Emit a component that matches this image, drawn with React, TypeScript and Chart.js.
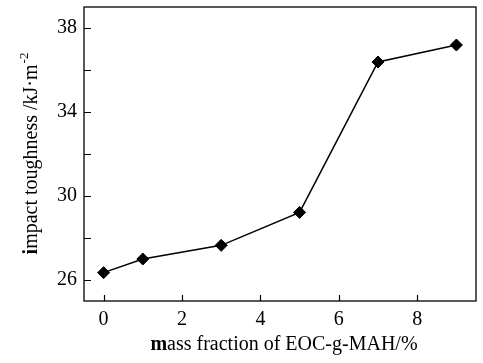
import { useEffect, useRef } from "react";
import { Chart, registerables } from "chart.js";

Chart.register(...registerables);

const massFraction = [0, 1, 3, 5, 7, 9];
const impactToughness = [26.35, 27.0, 27.65, 29.22, 36.38, 37.19];
const xTickValues = [0, 2, 4, 6, 8];
const yTickValues = [26, 28, 30, 32, 34, 36, 38];
const yLabelValues = [26, 30, 34, 38];
const xTitleParts = ["m", "ass fraction of EOC-g-MAH/%"];
const yTitleParts = ["i", "mpact toughness /kJ·m", "-2"];

const FONT = "'Liberation Serif', 'Times New Roman', serif";

const framePlugin = {
  id: "frameAndTitles",
  beforeDatasetsDraw(chart: any) {
    const { ctx, chartArea } = chart;
    const { left, right, top, bottom } = chartArea;
    ctx.save();
    ctx.strokeStyle = "#000";
    ctx.lineWidth = 1.3;
    ctx.strokeRect(left, top, right - left, bottom - top);
    const xs = chart.scales.x;
    const ys = chart.scales.y;
    ctx.beginPath();
    xs.ticks.forEach((t: any) => {
      const px = Math.round(xs.getPixelForValue(t.value)) + 0.5;
      ctx.moveTo(px, bottom);
      ctx.lineTo(px, bottom - 6);
    });
    ys.ticks.forEach((t: any) => {
      const py = Math.round(ys.getPixelForValue(t.value)) + 0.5;
      ctx.moveTo(left, py);
      ctx.lineTo(left + 7, py);
    });
    ctx.lineWidth = 1.2;
    ctx.stroke();
    ctx.restore();
  },
  afterDraw(chart: any) {
    const { ctx, chartArea } = chart;
    ctx.save();
    ctx.fillStyle = "#000";
    ctx.textBaseline = "alphabetic";
    ctx.textAlign = "left";
    const boldFont = `bold 20px ${FONT}`;
    const normFont = `20px ${FONT}`;
    // x title
    ctx.font = boldFont;
    const w0 = ctx.measureText(xTitleParts[0]).width;
    ctx.font = normFont;
    const w1 = ctx.measureText(xTitleParts[1]).width;
    const cx = (chartArea.left + chartArea.right) / 2 + 4;
    const x = cx - (w0 + w1) / 2;
    const by = 350;
    ctx.font = boldFont;
    ctx.fillText(xTitleParts[0], x, by);
    ctx.font = normFont;
    ctx.fillText(xTitleParts[1], x + w0, by);

    // y title (rotated)
    ctx.save();
    ctx.translate(37, (chartArea.top + chartArea.bottom) / 2);
    ctx.rotate(-Math.PI / 2);
    ctx.font = boldFont;
    const v0 = ctx.measureText(yTitleParts[0]).width;
    ctx.font = normFont;
    const v1 = ctx.measureText(yTitleParts[1]).width;
    const supFont = `13px ${FONT}`;
    ctx.font = supFont;
    const v2 = ctx.measureText(yTitleParts[2]).width;
    const sx = -(v0 + v1 + v2) / 2;
    ctx.font = boldFont;
    ctx.fillText(yTitleParts[0], sx, 0);
    ctx.font = normFont;
    ctx.fillText(yTitleParts[1], sx + v0, 0);
    ctx.font = supFont;
    ctx.fillText(yTitleParts[2], sx + v0 + v1 + 1, -9);
    ctx.restore();
    ctx.restore();
  },
};

export default function App() {
  const canvasRef = useRef<HTMLCanvasElement | null>(null);

  useEffect(() => {
    const canvas = canvasRef.current;
    if (!canvas) return;
    const chart = new Chart(canvas, {
      type: "scatter",
      data: {
        datasets: [
          {
            data: massFraction.map((m, i) => ({ x: m, y: impactToughness[i] })),
            showLine: true,
            borderColor: "#000",
            borderWidth: 1.5,
            backgroundColor: "#000",
            pointStyle: "rectRot",
            pointRadius: 6,
            pointBorderWidth: 1,
            pointBackgroundColor: "#000",
            pointBorderColor: "#000",
          },
        ],
      },
      options: {
        responsive: false,
        animation: false,
        devicePixelRatio: 1,
        layout: { padding: { top: 6, right: 4, left: 0, bottom: 0 } },
        plugins: {
          legend: { display: false },
          tooltip: { enabled: false },
        },
        scales: {
          x: {
            type: "linear",
            min: -0.5,
            max: 9.5,
            afterBuildTicks: (scale: any) => {
              scale.ticks = xTickValues.map((v) => ({ value: v }));
            },
            afterFit: (scale: any) => {
              scale.height = 62;
              scale.paddingLeft = 0;
              scale.paddingRight = 0;
            },
            grid: { display: true, drawOnChartArea: false, drawTicks: false },
            border: { display: false },
            ticks: {
              color: "#000",
              padding: 7,
              font: { family: FONT, size: 20 },
              callback: (v: any) => String(v),
            },
          },
          y: {
            type: "linear",
            min: 25,
            max: 39,
            afterBuildTicks: (scale: any) => {
              scale.ticks = yTickValues.map((v) => ({ value: v }));
            },
            afterFit: (scale: any) => {
              scale.width = 84;
              scale.paddingTop = 0;
              scale.paddingBottom = 0;
            },
            grid: { display: true, drawOnChartArea: false, drawTicks: false },
            border: { display: false },
            ticks: {
              color: "#000",
              padding: 7,
              font: { family: FONT, size: 20 },
              callback: (v: any) => (yLabelValues.includes(Number(v)) ? String(v) : ""),
            },
          },
        },
      },
      plugins: [framePlugin],
    });
    return () => chart.destroy();
  }, []);

  return (
    <div style={{ position: "absolute", left: 0, top: 0, width: 483, height: 363, background: "#fff" }}>
      <canvas ref={canvasRef} width={483} height={363} style={{ width: 483, height: 363 }} />
    </div>
  );
}
